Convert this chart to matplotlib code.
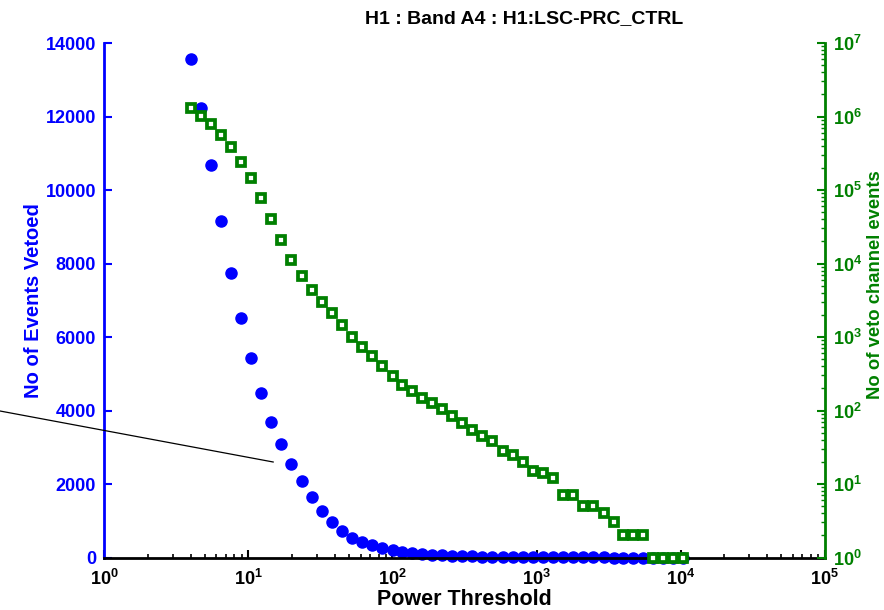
import matplotlib
matplotlib.use("Agg")
from matplotlib import pyplot as plt
from matplotlib.lines import Line2D
import numpy as np

plt.rcParams['font.family'] = ['Liberation Sans', 'DejaVu Sans']
plt.rcParams['font.weight'] = 'bold'
plt.rcParams['mathtext.fontset'] = 'custom'
plt.rcParams['mathtext.rm'] = 'Liberation Sans:bold'
plt.rcParams['mathtext.bf'] = 'Liberation Sans:bold'
plt.rcParams['mathtext.default'] = 'bf'

# umbrales de potencia
threshold = [3.98, 4.67, 5.50, 6.45, 7.57, 8.89, 10.5, 12.3, 14.4, 16.9,
             19.8, 23.4, 27.5, 32.3, 37.9, 44.6, 52.4, 61.4, 72.4, 85.0,
             100.3, 117, 137, 161, 188, 221, 259, 304, 356, 418,
             490, 587, 689, 808, 949, 1103, 1293, 1532, 1797, 2109,
             2475, 2950, 3462, 3997, 4690, 5502, 6425, 7538, 8843, 10375]

# eventos vetados (eje izquierdo)
vetoed = [13556, 12223, 10672, 9148, 7733, 6509, 5420, 4476, 3687, 3097,
          2536, 2073, 1638, 1257, 966, 729, 539, 422, 332, 259,
          196, 150, 114, 90, 72, 58, 46, 37, 30, 24,
          19, 15, 12, 10, 8, 6, 5, 4, 3, 3,
          2, 2, 1, 1, 1, 1, 0, 0, 0, 0]

# eventos del canal de veto (eje derecho, log)
veto_channel = [1.30e6, 1.02e6, 7.86e5, 5.57e5, 3.82e5, 2.41e5, 1.45e5, 7.89e4, 4.05e4, 2.10e4,
                1.12e4, 6860, 4400, 3020, 2120, 1470, 1010, 738, 545, 407,
                298, 223, 184, 150, 128, 104, 85, 67, 55, 45,
                38, 28, 25, 20, 15, 14, 12, 7, 7, 5,
                5, 4, 3, 2, 2, 2, 1, 1, 1, 1]

blue = '#0000ff'
green = '#008000'

fig = plt.figure(figsize=(8.84, 6.10), dpi=100)
ax = fig.add_axes([0.118, 0.086, 0.815, 0.8435])
ax2 = ax.twinx()

ax.plot(threshold, vetoed, linestyle='none', marker='o', markersize=8,
        markerfacecolor=blue, markeredgecolor=blue, clip_on=False)
ax2.plot(threshold, veto_channel, linestyle='none', marker='s', markersize=5.5,
         markerfacecolor='white', markeredgecolor=green, markeredgewidth=2.7, clip_on=False)

ax.set_xscale('log')
ax.set_xlim(1, 1e5)
ax.set_ylim(0, 14000)
ax.set_yticks(np.arange(0, 14001, 2000))
ax2.set_yscale('log')
ax2.set_ylim(1, 1e7)

for a in (ax, ax2):
    a.spines['top'].set_visible(False)
ax.spines['left'].set_color(blue)
ax.spines['left'].set_linewidth(2)
ax.spines['bottom'].set_linewidth(2)
ax.spines['right'].set_visible(False)
ax2.spines['left'].set_visible(False)
ax2.spines['bottom'].set_visible(False)
ax2.spines['right'].set_color(green)
ax2.spines['right'].set_linewidth(2)

ax.tick_params(axis='x', which='both', direction='in', labelsize=13, pad=8)
ax.tick_params(axis='x', which='major', length=6, width=1.5)
ax.tick_params(axis='x', which='minor', length=3, width=1.2)
ax.tick_params(axis='y', direction='in', colors=blue, labelsize=13, length=6, width=1.5, pad=6)
ax2.tick_params(axis='y', which='both', direction='in', colors=green, labelsize=13, pad=6)
ax2.tick_params(axis='y', which='major', length=6, width=1.5)
ax2.tick_params(axis='y', which='minor', length=3, width=1)
for lbl in ax.get_yticklabels() + ax.get_xticklabels() + ax2.get_yticklabels():
    lbl.set_fontweight('bold')

ax.set_xlabel('Power Threshold', fontsize=15.5, fontweight='bold', labelpad=0)
ax.set_ylabel('No of Events Vetoed', fontsize=14.5, fontweight='bold', color=blue, labelpad=2)
ax2.set_ylabel('No of veto channel events', fontsize=13.3, fontweight='bold', color=green, labelpad=1)
ax2.yaxis.set_label_coords(1.058, 0.53)
ax.set_title('H1 : Band A4 : H1:LSC-PRC_CTRL', fontsize=14, fontweight='bold', pad=14, x=0.583)

# linea suelta que aparece en la imagen original
fig.add_artist(Line2D([0.0, 0.309], [1 - 411 / 610, 1 - 462 / 610], color='black', linewidth=0.9))

fig.savefig('out.png', dpi=100)
